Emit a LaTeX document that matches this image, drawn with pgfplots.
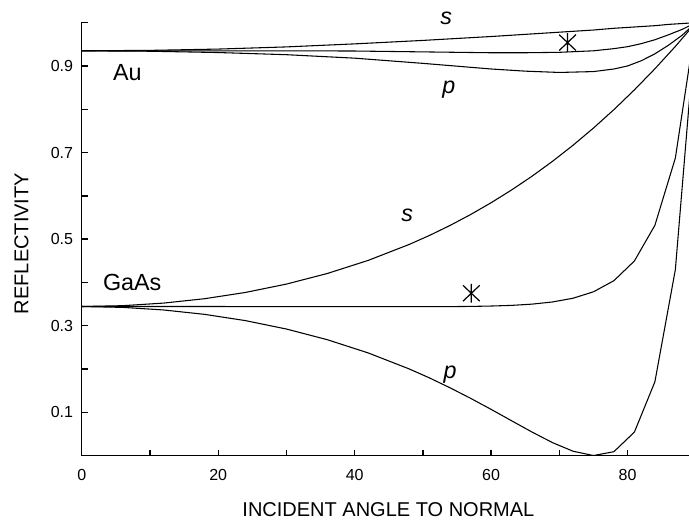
\documentclass[border=0pt]{standalone}
\usepackage{fontspec}
\setmainfont{Liberation Sans}
\usepackage{pgfplots}
\pgfplotsset{compat=1.18}
\usepackage{pgfplotstable}

% Reflectivity of gold versus angle: s, p and unpolarised (average)
\pgfplotstableread{
ang   s      p      u
0     0.935  0.935  0.935
10    0.936  0.934  0.935
20    0.939  0.931  0.935
30    0.944  0.926  0.935
40    0.951  0.918  0.9345
50    0.959  0.906  0.9325
60    0.968  0.893  0.9305
65    0.973  0.888  0.9305
70    0.978  0.885  0.9315
75    0.983  0.887  0.935
78    0.987  0.893  0.940
80    0.989  0.900  0.9445
82    0.991  0.912  0.9515
84    0.993  0.928  0.9605
86    0.996  0.948  0.972
88    0.998  0.971  0.9845
90    1.000  1.000  1.000
}\gold

% Reflectivity of GaAs versus angle: s, p and unpolarised (average)
\pgfplotstableread{
ang   s       p       u
0     0.3444  0.3444  0.3444
6     0.3463  0.3424  0.3444
12    0.3523  0.3364  0.3444
18    0.3624  0.3263  0.3444
24    0.3769  0.3118  0.3443
30    0.3962  0.2924  0.3443
36    0.4207  0.2677  0.3442
42    0.4510  0.2371  0.3441
48    0.4878  0.2002  0.3440
51    0.5088  0.1792  0.3440
54    0.5318  0.1565  0.3442
57    0.5569  0.1323  0.3446
60    0.5841  0.1068  0.3455
63    0.6136  0.0805  0.3470
66    0.6454  0.0544  0.3499
69    0.6798  0.0300  0.3549
72    0.7168  0.0102  0.3635
75    0.7566  0.0002  0.3784
78    0.7992  0.0091  0.4041
81    0.8448  0.0544  0.4496
84    0.8934  0.1704  0.5319
87    0.9451  0.4295  0.6873
90    1.0000  1.0000  1.0000
}\gaas

% six-armed star: one vertical stroke and two steep diagonals
\pgfdeclareplotmark{star6}{%
  \pgfpathmoveto{\pgfqpoint{0pt}{-\pgfplotmarksize}}%
  \pgfpathlineto{\pgfqpoint{0pt}{\pgfplotmarksize}}%
  \pgfpathmoveto{\pgfqpoint{-0.9\pgfplotmarksize}{-0.85\pgfplotmarksize}}%
  \pgfpathlineto{\pgfqpoint{0.9\pgfplotmarksize}{0.85\pgfplotmarksize}}%
  \pgfpathmoveto{\pgfqpoint{-0.9\pgfplotmarksize}{0.85\pgfplotmarksize}}%
  \pgfpathlineto{\pgfqpoint{0.9\pgfplotmarksize}{-0.85\pgfplotmarksize}}%
  \pgfusepathqstroke}

\pgfplotsset{curve/.style={black, solid, line width=0.8pt, mark=none}}

\begin{document}
\begin{tikzpicture}
\begin{axis}[
  scale only axis,
  width=455.5pt, height=324.75pt,
  xmin=0, xmax=89, ymin=0, ymax=1,
  axis line style={draw=none},
  clip mode=individual,
  xtick={0,20,40,60,80},
  minor xtick={10,30,50,70},
  ytick={0.1,0.3,0.5,0.7,0.9},
  minor ytick={0.2,0.4,0.6,0.8,1.0},
  xtick pos=bottom, ytick pos=left,
  tick align=inside,
  major tick length=4.5pt, minor tick length=4.5pt,
  tick style={line width=1pt, black},
  /pgf/number format/assume math mode=true,
  yticklabel style={anchor=east, xshift=-3pt,
    /pgf/number format/fixed, /pgf/number format/precision=1,
    /pgf/number format/fixed zerofill},
  xticklabel style={anchor=north, yshift=-6.5pt},
  ticklabel style={font=\fontsize{12}{14}\selectfont},
  xlabel={INCIDENT ANGLE TO NORMAL},
  ylabel={REFLECTIVITY},
  label style={font=\fontsize{15}{17}\selectfont},
  xlabel style={at={(rel axis cs:0.505,0)}, anchor=center, yshift=-40.8pt},
  ylabel style={at={(rel axis cs:0,0.49)}, anchor=center, rotate=0, yshift=45.2pt},
]
% left and bottom axis lines only
\draw[line width=1.1pt, line cap=rect] (rel axis cs:0,1) -- (rel axis cs:0,0) -- (rel axis cs:1,0);

\addplot[curve] table[x=ang, y=s] {\gold};
\addplot[curve] table[x=ang, y=u] {\gold};
\addplot[curve] table[x=ang, y=p] {\gold};
\addplot[curve] table[x=ang, y=s] {\gaas};
\addplot[curve] table[x=ang, y=u] {\gaas};
\addplot[curve] table[x=ang, y=p] {\gaas};

\addplot[black, only marks, mark=star6, mark size=7pt, line width=0.9pt]
  coordinates {(71.2,0.954) (57.1,0.375)};

\node[anchor=base, font=\fontsize{17.5}{20}\selectfont] at (axis cs:6.7,0.8675) {Au};
\node[anchor=base, font=\fontsize{17.5}{20}\selectfont] at (axis cs:7.4,0.381) {GaAs};
\node[anchor=base, font=\fontsize{17.5}{20}\selectfont\itshape] at (axis cs:53.4,0.995) {s};
\node[anchor=base, font=\fontsize{17.5}{20}\selectfont\itshape] at (axis cs:53.8,0.8367) {p};
\node[anchor=base, font=\fontsize{17.5}{20}\selectfont\itshape] at (axis cs:47.7,0.541) {s};
\node[anchor=base, font=\fontsize{17.5}{20}\selectfont\itshape] at (axis cs:54.0,0.1785) {p};

\coordinate (ll) at (rel axis cs:0,0);
\coordinate (ur) at (rel axis cs:1,1);
\end{axis}
\pgfresetboundingbox
\path ([shift={(-61.3pt,-49pt)}]ll) rectangle ([shift={(0pt,17pt)}]ur);
\end{tikzpicture}
\end{document}
